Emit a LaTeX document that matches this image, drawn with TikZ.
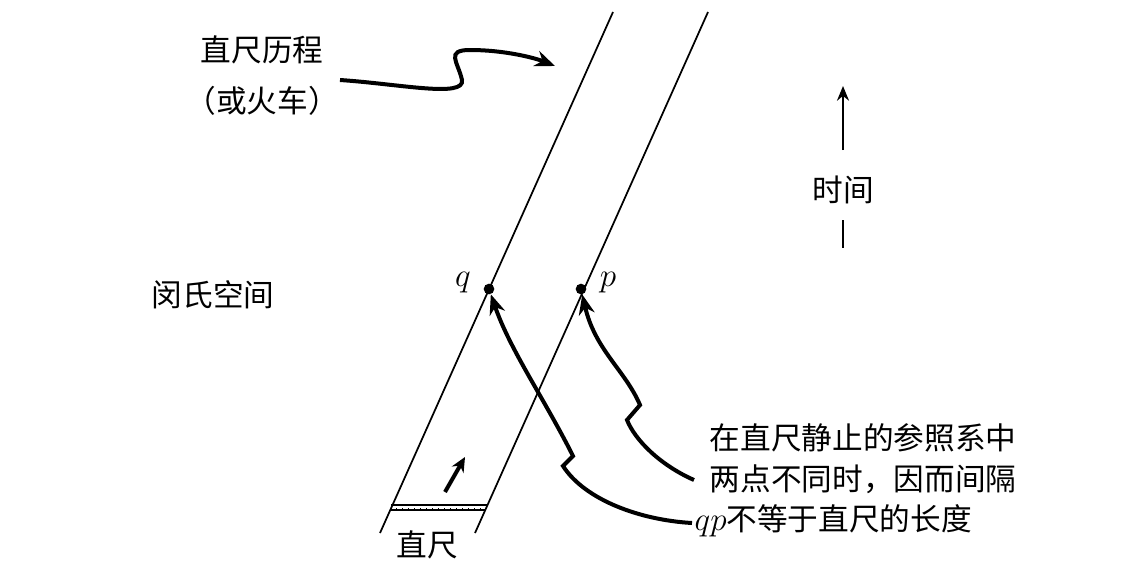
\documentclass[tikz,border=0pt]{standalone}
\usepackage{fontspec}
\newfontfamily\cjk{Noto Sans CJK SC}
\usetikzlibrary{arrows.meta}
\begin{document}
\begin{tikzpicture}[x=0.75pt,y=-0.75pt,
  wl/.style={line width=1.3pt},
  sq/.style={line width=3pt,-{Stealth[length=15pt,width=12pt]}},
  lab/.style={font=\cjk\fontsize{23}{28}\selectfont},
  dot/.style={circle,fill,inner sep=0pt,minimum size=8pt}]
\useasboundingbox (0,0) rectangle (1137,579);
% world lines
\coordinate (lb) at (380,533); \coordinate (lt) at (613,12);
\coordinate (rb) at (475,533); \coordinate (rt) at (708,12);
\draw[wl] (lb) -- (lt);
\draw[wl] (rb) -- (rt);
% ruler
\coordinate (r1) at (391,505); \coordinate (r2) at (487,505);
\coordinate (r3) at (390,510); \coordinate (r4) at (486,510);
\draw[line width=1pt] (r1) -- (r2);
\draw[line width=1.3pt] (r3) -- (r4);
\foreach \x in {396,402,...,482} \draw[line width=0.6pt] (\x,510) -- (\x,507.5);
\coordinate (sa) at (445,492); \coordinate (sb) at (465,457);
\draw[line width=3pt,-{Stealth[length=11pt,width=10pt]}] (sa) -- (sb);
% points
\node[dot] (q) at (489,289) {};
\node[dot] (p) at (581,289) {};
\node[font=\fontsize{23}{24}\selectfont\itshape] (ql) at (463,283) {$q$};
\node[font=\fontsize{23}{24}\selectfont\itshape] (pl) at (608,283) {$p$};
% labels
\node[lab] (t1) at (262,50) {直尺历程};
\node[lab] (t2) at (262,101) {（或火车）};
\node[lab] (mk) at (213,295) {闵氏空间};
\node[lab] (tm) at (843,190) {时间};
\node[lab] (rl) at (427,545) {直尺};
\node[lab,anchor=west] (n1) at (705,438) {在直尺静止的参照系中};
\node[lab,anchor=west] (n2) at (705,479) {两点不同时，因而间隔};
\node[lab,anchor=west] (n3) at (690,521) {$qp$不等于直尺的长度};
% time arrow
\coordinate (ta) at (843,150); \coordinate (tb) at (843,86);
\coordinate (tc) at (843,220); \coordinate (td) at (843,248);
\draw[line width=1.5pt,-{Stealth[length=11pt,width=9pt]}] (ta) -- (tb);
\draw[line width=1.5pt] (tc) -- (td);
% squiggles
\coordinate (a0) at (340,80);
\coordinate (a1) at (555,66);
\draw[sq] (a0) .. controls (400,84) and (465,98) .. (462,80)
  .. controls (458,62) and (445,50) .. (470,50)
  .. controls (505,50) and (535,58) .. (a1);
\coordinate (b0) at (694,480);
\draw[sq] (b0) .. controls (660,465) and (635,440) .. (627,420)
  -- (640,405) .. controls (625,370) and (595,350) .. (p);
\coordinate (c0) at (692,523);
\draw[sq] (c0) .. controls (640,520) and (585,500) .. (563,466)
  -- (573,456) .. controls (545,400) and (510,350) .. (q);
\end{tikzpicture}
\end{document}
